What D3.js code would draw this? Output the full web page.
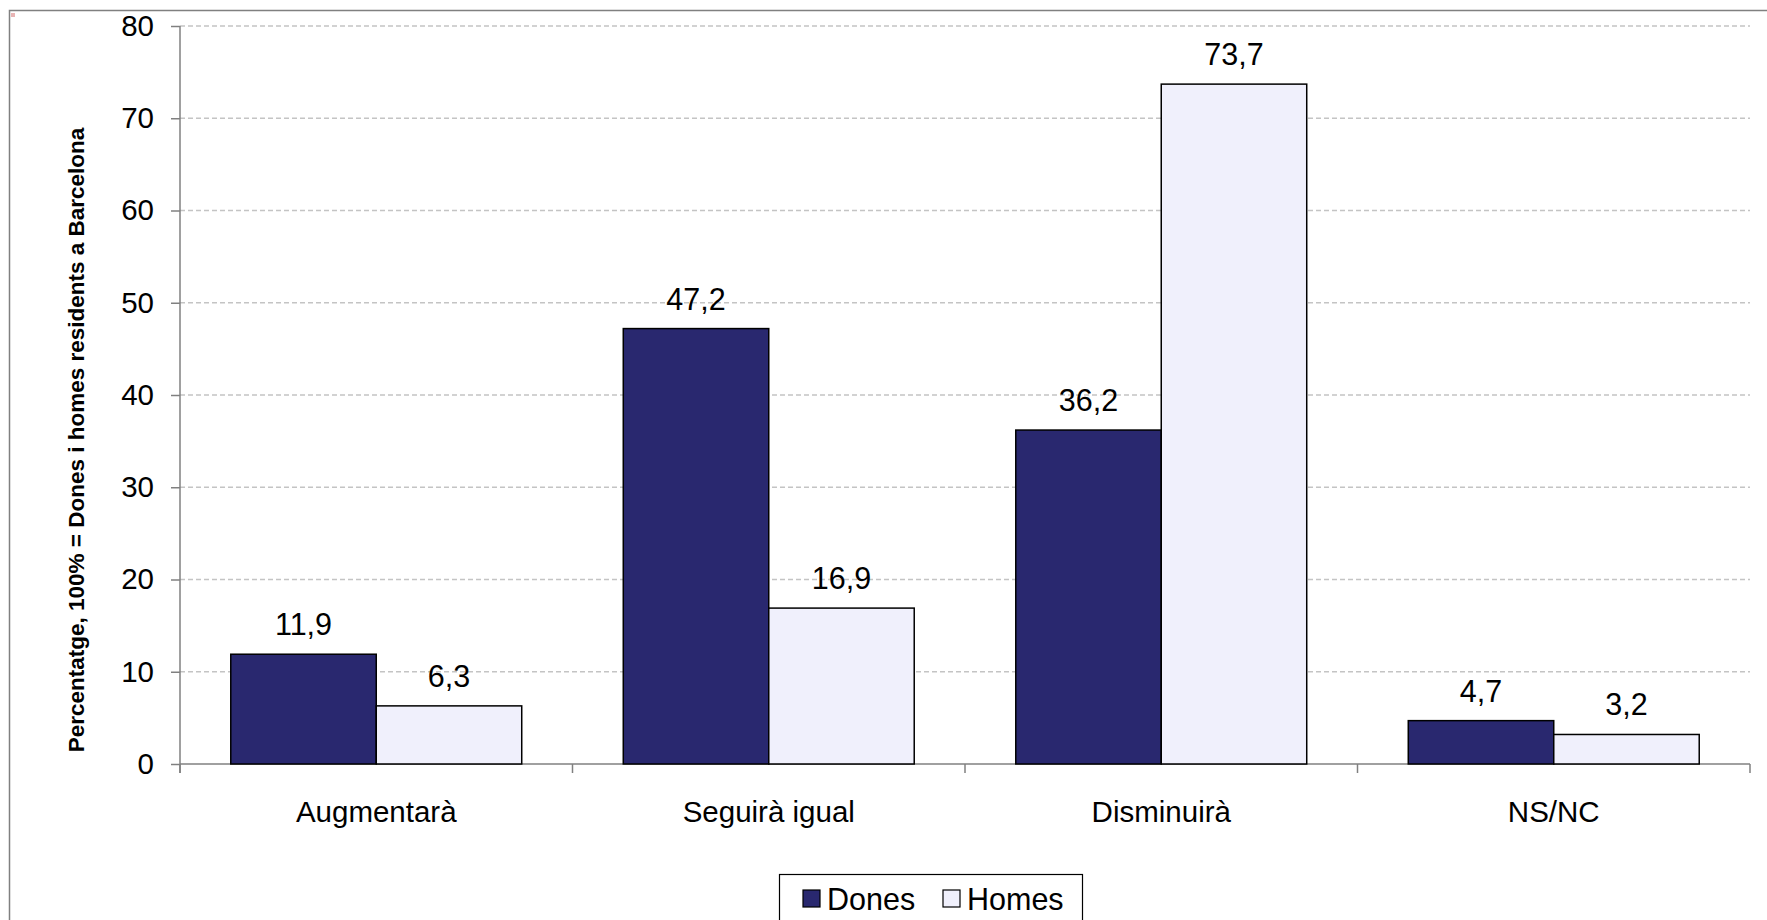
<!DOCTYPE html>
<html>
<head>
<meta charset="utf-8">
<script src="https://cdn.jsdelivr.net/npm/d3@7"></script>
<style>
  html, body { margin: 0; padding: 0; background: #fff; }
  svg { display: block; font-family: "Liberation Sans", Arial, sans-serif; }
</style>
</head>
<body>
<svg id="chart" width="1767" height="920"></svg>
<script>
const categories = ["Augmentarà", "Seguirà igual", "Disminuirà", "NS/NC"];
const seriesNames = ["Dones", "Homes"];
const dones = [11.9, 47.2, 36.2, 4.7];
const homes = [6.3, 16.9, 73.7, 3.2];
const yTicks = [0, 10, 20, 30, 40, 50, 60, 70, 80];
const yTitle = "Percentatge, 100% = Dones i homes residents a Barcelona";
const colors = ["#29286F", "#F0F0FC"];

const fmt = v => String(v.toFixed(1)).replace(".", ",");
const values = [dones, homes];
const FS = 30.5;

const svg = d3.select("#chart");
const plot = { left: 180, right: 1750, top: 26, bottom: 764 };

// outer frame (clipped at right/bottom)
svg.append("rect").attr("x", 9.5).attr("y", 10.5).attr("width", 1800).attr("height", 1000)
  .attr("fill", "#fff").attr("stroke", "#808080").attr("stroke-width", 1.5);
svg.append("rect").attr("x", 11).attr("y", 13).attr("width", 4).attr("height", 4).attr("fill", "#E8B4B4");

const y = d3.scaleLinear().domain([0, 80]).range([plot.bottom, plot.top]);
const x0 = d3.scaleBand().domain(categories).range([plot.left, plot.right]).padding(0);
const x1 = d3.scaleBand().domain(seriesNames).range([0, x0.bandwidth()]).paddingInner(0).paddingOuter(0.349);

// gridlines
svg.append("g").selectAll("line").data(yTicks.filter(t => t > 0)).join("line")
  .attr("x1", plot.left).attr("x2", plot.right)
  .attr("y1", d => y(d)).attr("y2", d => y(d))
  .attr("stroke", "#C4C4C4").attr("stroke-width", 1.5).attr("stroke-dasharray", "5,3");

// y axis
const yAxis = d3.axisLeft(y).tickValues(yTicks).tickSize(9).tickPadding(17).tickFormat(d => d);
const gy = svg.append("g").attr("transform", `translate(${plot.left},0)`).call(yAxis);
gy.select(".domain").attr("stroke", "#808080").attr("stroke-width", 1.5)
  .attr("d", `M0,${plot.top}V${plot.bottom + 9}`);
gy.selectAll(".tick line").attr("stroke", "#808080").attr("stroke-width", 1.5);
gy.selectAll(".tick text").attr("font-size", 29.5).attr("fill", "#000")
  .attr("font-family", "'Liberation Sans', Arial, sans-serif");

// x axis
const xAxis = d3.axisBottom(x0).tickSize(0).tickPadding(0);
const gx = svg.append("g").attr("transform", `translate(0,${plot.bottom})`).call(xAxis);
gx.select(".domain").attr("stroke", "#808080").attr("stroke-width", 1.5)
  .attr("d", `M${plot.left},0H${plot.right}`);
gx.selectAll(".tick text").attr("font-size", 29.5).attr("fill", "#000").attr("dy", 0).attr("y", 58)
  .attr("font-family", "'Liberation Sans', Arial, sans-serif");
// boundary ticks
const bounds = categories.map(c => x0(c)).concat([plot.right]);
gx.append("g").selectAll("line").data(bounds).join("line")
  .attr("x1", d => d).attr("x2", d => d).attr("y1", 0).attr("y2", 9)
  .attr("stroke", "#808080").attr("stroke-width", 1.5);

// bars
const rows = categories.map((c, i) => ({ c, vals: seriesNames.map((s, j) => ({ s, j, v: values[j][i] })) }));
const groups = svg.append("g").selectAll("g").data(rows).join("g")
  .attr("transform", d => `translate(${x0(d.c)},0)`);
groups.selectAll("rect").data(d => d.vals).join("rect")
  .attr("x", d => x1(d.s)).attr("width", x1.bandwidth())
  .attr("y", d => y(d.v)).attr("height", d => y(0) - y(d.v))
  .attr("fill", d => colors[d.j]).attr("stroke", "#000").attr("stroke-width", 1.5);
groups.selectAll("text").data(d => d.vals).join("text")
  .attr("x", d => x1(d.s) + x1.bandwidth() / 2).attr("y", d => y(d.v) - 19)
  .attr("text-anchor", "middle").attr("font-size", FS).attr("fill", "#000")
  .text(d => fmt(d.v));

// y title
svg.append("text").attr("transform", "translate(84,440) rotate(-90)")
  .attr("text-anchor", "middle").attr("font-size", 22.5).attr("font-weight", "bold").attr("fill", "#000")
  .text(yTitle);

// legend
const lg = svg.append("g");
lg.append("rect").attr("x", 779.5).attr("y", 874.5).attr("width", 303).attr("height", 80)
  .attr("fill", "#fff").attr("stroke", "#000").attr("stroke-width", 1.2);
const legX = [803, 943];
const li = lg.selectAll("g").data(seriesNames).join("g")
  .attr("transform", (d, i) => `translate(${legX[i]},0)`);
li.append("rect").attr("x", 0).attr("y", 890).attr("width", 17).attr("height", 17)
  .attr("fill", (d, i) => colors[i]).attr("stroke", "#000").attr("stroke-width", 1.2);
li.append("text").attr("x", 24).attr("y", 910).attr("font-size", FS).attr("fill", "#000").text(d => d);
</script>
</body>
</html>
